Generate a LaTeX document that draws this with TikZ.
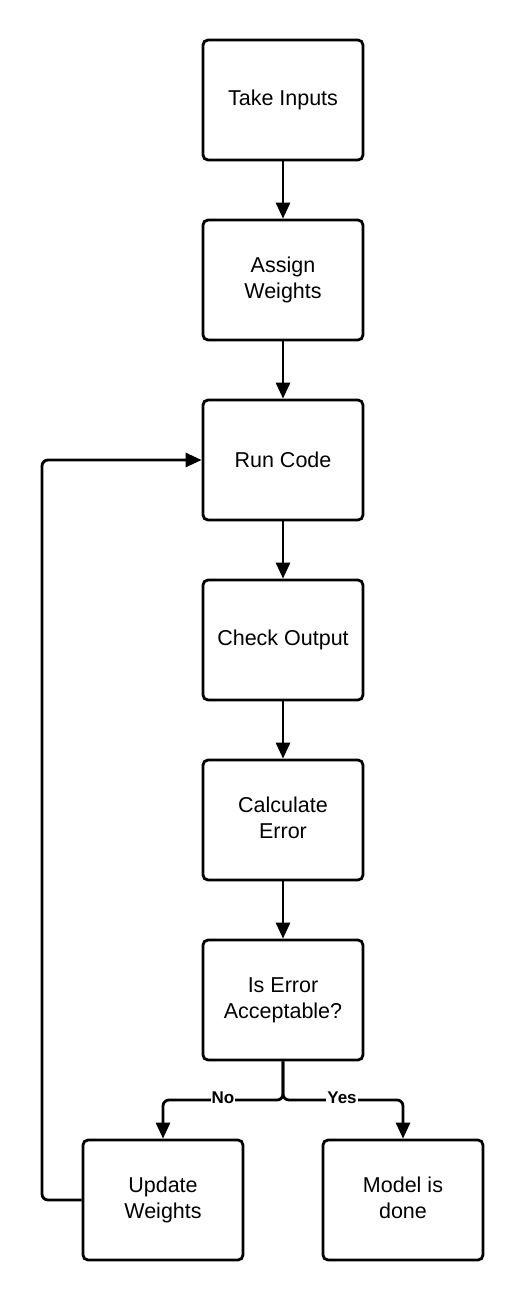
\documentclass[tikz,border=0pt]{standalone}
\usepackage{fontspec}
\setmainfont{Liberation Sans}
\usetikzlibrary{arrows.meta}
\begin{document}
\begin{tikzpicture}[x=1pt,y=-1pt,
  box/.style={draw,line width=2.8pt,rounded corners=5pt,minimum width=160pt,minimum height=120pt,inner sep=0pt,align=center,font=\fontsize{21.5}{26}\selectfont},
  conn/.style={line width=2.8pt,-{Triangle[length=16pt,width=14pt]},rounded corners=6pt},
  lab/.style={fill=white,inner sep=1pt,font=\fontsize{17}{18}\selectfont\bfseries}]
\useasboundingbox (0,0) rectangle (523,1300);
\node[box] (take) at (283,100) {Take Inputs};
\node[box] (assign) at (283,280) {\strut Assign\\\strut Weights};
\node[box] (run) at (283,460) {Run Code};
\node[box] (check) at (283,640) {Check Output};
\node[box] (calc) at (283,820) {\strut Calculate\\\strut Error};
\node[box] (accept) at (283,1000) {\strut Is Error\\\strut Acceptable?};
\node[box] (upd) at (163,1200) {\strut Update\\\strut Weights};
\node[box] (done) at (403,1200) {\strut Model is\\\strut done};
\draw[conn] (take) -- (assign);
\draw[conn] (assign) -- (run);
\draw[conn] (run) -- (check);
\draw[conn] (check) -- (calc);
\draw[conn] (calc) -- (accept);
\coordinate (split) at (283,1100);
\draw[conn] (accept.south) -- (split) -| (upd.north);
\draw[conn] (accept.south) -- (split) -| (done.north);
\node[lab] (no) at (223,1098) {No};
\node[lab] (yes) at (342,1098) {Yes};
\coordinate (lc) at (42,1200);
\draw[conn] (upd.west) -- (lc) |- (run.west);
\end{tikzpicture}
\end{document}
